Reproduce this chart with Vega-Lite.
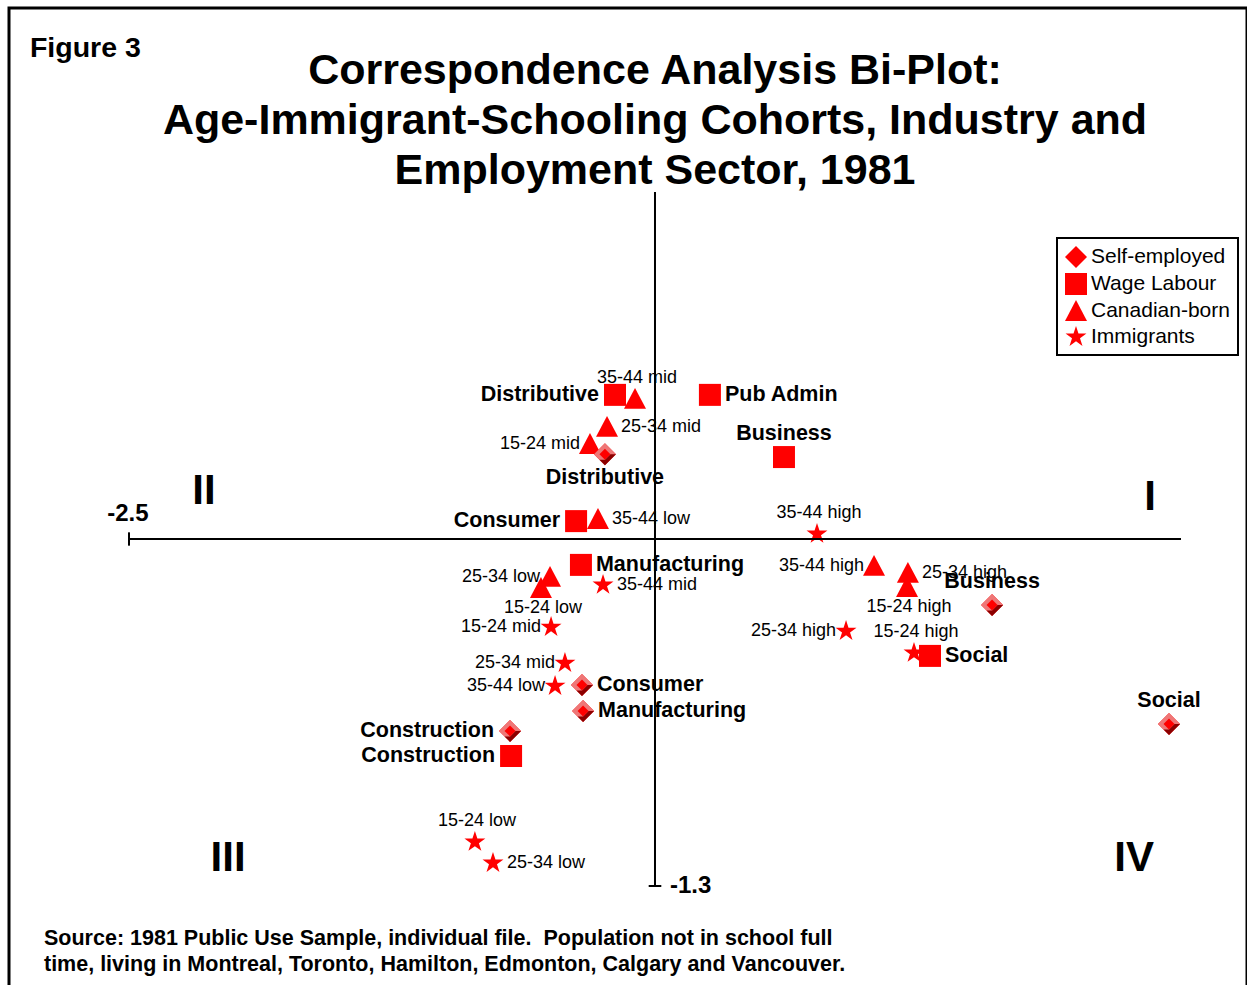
{
  "$schema": "https://vega.github.io/schema/vega-lite/v6.json",
  "width": 1238,
  "height": 1000,
  "autosize": {"type": "none"},
  "padding": {"left": 9, "top": 8, "right": 0, "bottom": 0},
  "background": "white",
  "title": {
    "text": ["Correspondence Analysis Bi-Plot:", "Age-Immigrant-Schooling Cohorts, Industry and", "Employment Sector, 1981"],
    "fontSize": 43,
    "fontWeight": "bold",
    "font": "Liberation Sans",
    "anchor": "middle",
    "frame": "group",
    "dx": 27,
    "offset": -185,
    "lineHeight": 50,
    "color": "black"
  },
  "config": {
    "font": "Liberation Sans",
    "view": {"stroke": "black", "strokeWidth": 3},
    "legend": {
      "orient": "none",
      "legendX": 1048,
      "legendY": 230,
      "padding": 8,
      "rowPadding": 5,
      "labelFontSize": 21,
      "labelFont": "Liberation Sans",
      "labelColor": "black",
      "labelOffset": 4,
      "strokeColor": "black",
      "strokeWidth": 2,
      "fillColor": "white",
      "symbolSize": 484,
      "symbolFillColor": "#ff0000",
      "symbolStrokeWidth": 0
    }
  },
  "datasets": {
    "points": [
      {"category": "Immigrants", "label": "35-44 high", "x": 0.770, "y": 0.019},
      {"category": "Immigrants", "label": "35-44 mid", "x": -0.247, "y": -0.172},
      {"category": "Immigrants", "label": "15-24 mid", "x": -0.494, "y": -0.330},
      {"category": "Immigrants", "label": "25-34 mid", "x": -0.428, "y": -0.465},
      {"category": "Immigrants", "label": "35-44 low", "x": -0.475, "y": -0.551},
      {"category": "Immigrants", "label": "25-34 high", "x": 0.908, "y": -0.345},
      {"category": "Immigrants", "label": "15-24 high", "x": 1.231, "y": -0.427},
      {"category": "Immigrants", "label": "15-24 low", "x": -0.856, "y": -1.135},
      {"category": "Immigrants", "label": "25-34 low", "x": -0.770, "y": -1.214},
      {"category": "Wage Labour", "label": "Distributive", "x": -0.190, "y": 0.540},
      {"category": "Wage Labour", "label": "Pub Admin", "x": 0.261, "y": 0.540},
      {"category": "Wage Labour", "label": "Business", "x": 0.613, "y": 0.307},
      {"category": "Wage Labour", "label": "Consumer", "x": -0.375, "y": 0.067},
      {"category": "Wage Labour", "label": "Manufacturing", "x": -0.352, "y": -0.097},
      {"category": "Wage Labour", "label": "Social", "x": 1.307, "y": -0.438},
      {"category": "Wage Labour", "label": "Construction", "x": -0.684, "y": -0.813},
      {"category": "Canadian-born", "label": "35-44 mid", "x": -0.095, "y": 0.525},
      {"category": "Canadian-born", "label": "25-34 mid", "x": -0.228, "y": 0.420},
      {"category": "Canadian-born", "label": "15-24 mid", "x": -0.309, "y": 0.356},
      {"category": "Canadian-born", "label": "35-44 low", "x": -0.271, "y": 0.075},
      {"category": "Canadian-born", "label": "25-34 low", "x": -0.499, "y": -0.142},
      {"category": "Canadian-born", "label": "15-24 low", "x": -0.542, "y": -0.184},
      {"category": "Canadian-born", "label": "35-44 high", "x": 1.041, "y": -0.101},
      {"category": "Canadian-born", "label": "25-34 high", "x": 1.202, "y": -0.127},
      {"category": "Canadian-born", "label": "15-24 high", "x": 1.198, "y": -0.180},
      {"category": "Self-employed", "label": "Distributive", "x": -0.238, "y": 0.318},
      {"category": "Self-employed", "label": "Business", "x": 1.602, "y": -0.247},
      {"category": "Self-employed", "label": "Consumer", "x": -0.347, "y": -0.547},
      {"category": "Self-employed", "label": "Manufacturing", "x": -0.342, "y": -0.644},
      {"category": "Self-employed", "label": "Construction", "x": -0.689, "y": -0.719},
      {"category": "Self-employed", "label": "Social", "x": 2.443, "y": -0.693}
    ],
    "one": [{"n": 1}]
  },
  "layer": [
    {
      "data": {"name": "points"},
      "mark": {"type": "point", "filled": true, "opacity": 1, "size": 484, "color": "#ff0000", "strokeWidth": 0},
      "encoding": {
        "x": {"field": "x", "type": "quantitative", "scale": {"domain": [-3.0703, 2.8137], "nice": false, "zero": false}, "axis": null},
        "y": {"field": "y", "type": "quantitative", "scale": {"domain": [-1.7572, 1.9895], "nice": false, "zero": false}, "axis": null},
        "shape": {
          "field": "category",
          "type": "nominal",
          "scale": {
            "domain": ["Self-employed", "Wage Labour", "Canadian-born", "Immigrants"],
            "range": ["diamond", "square", "M0,-1L1,0.9L-1,0.9Z", "M0,-1L0.2245,-0.309L0.951,-0.309L0.3633,0.118L0.588,0.809L0,0.382L-0.588,0.809L-0.3633,0.118L-0.951,-0.309L-0.2245,-0.309Z"]
          },
          "legend": {"title": null}
        }
      }
    },
    {
      "data": {"name": "points"},
      "transform": [{"filter": "datum.category == 'Self-employed'"}],
      "mark": {"type": "point", "filled": true, "opacity": 1, "size": 484, "color": "#ee7777", "strokeWidth": 0, "shape": "M0,-1L1,0L0,1L-1,0Z"},
      "encoding": {"x": {"field": "x", "type": "quantitative"}, "y": {"field": "y", "type": "quantitative"}}
    },
    {
      "data": {"name": "points"},
      "transform": [{"filter": "datum.category == 'Self-employed'"}],
      "mark": {"type": "point", "filled": true, "opacity": 1, "size": 484, "color": "#8b0000", "strokeWidth": 0, "shape": "M1,0L0,1L-0.5,0.5L0,0.5L0.5,0Z"},
      "encoding": {"x": {"field": "x", "type": "quantitative"}, "y": {"field": "y", "type": "quantitative"}}
    },
    {
      "data": {"name": "points"},
      "transform": [{"filter": "datum.category == 'Self-employed'"}],
      "mark": {"type": "point", "filled": true, "opacity": 1, "size": 484, "color": "#ff0000", "strokeWidth": 0, "shape": "M0,-0.5L0.5,0L0,0.5L-0.5,0Z"},
      "encoding": {"x": {"field": "x", "type": "quantitative"}, "y": {"field": "y", "type": "quantitative"}}
    },
    {
      "data": {"name": "points"},
      "transform": [{"filter": "(datum.category == 'Wage Labour' && indexof(['Pub Admin','Manufacturing','Social'], datum.label) >= 0) || (datum.category == 'Self-employed' && indexof(['Consumer','Manufacturing'], datum.label) >= 0)"}],
      "mark": {"type": "text", "align": "left", "baseline": "middle", "dx": 15, "fontSize": 21.5, "fontWeight": "bold", "color": "black"},
      "encoding": {"x": {"field": "x", "type": "quantitative"}, "y": {"field": "y", "type": "quantitative"}, "text": {"field": "label"}}
    },
    {
      "data": {"name": "points"},
      "transform": [{"filter": "(datum.category == 'Wage Labour' && indexof(['Distributive','Consumer','Construction'], datum.label) >= 0) || (datum.category == 'Self-employed' && datum.label == 'Construction')"}],
      "mark": {"type": "text", "align": "right", "baseline": "middle", "dx": -16, "fontSize": 21.5, "fontWeight": "bold", "color": "black"},
      "encoding": {"x": {"field": "x", "type": "quantitative"}, "y": {"field": "y", "type": "quantitative"}, "text": {"field": "label"}}
    },
    {
      "data": {"name": "points"},
      "transform": [{"filter": "(datum.category == 'Wage Labour' && datum.label == 'Business') || (datum.category == 'Self-employed' && indexof(['Business','Social'], datum.label) >= 0)"}],
      "mark": {"type": "text", "align": "center", "baseline": "middle", "dy": -23, "fontSize": 21.5, "fontWeight": "bold", "color": "black"},
      "encoding": {"x": {"field": "x", "type": "quantitative"}, "y": {"field": "y", "type": "quantitative"}, "text": {"field": "label"}}
    },
    {
      "data": {"name": "points"},
      "transform": [{"filter": "datum.category == 'Self-employed' && datum.label == 'Distributive'"}],
      "mark": {"type": "text", "align": "center", "baseline": "middle", "dy": 24, "fontSize": 21.5, "fontWeight": "bold", "color": "black"},
      "encoding": {"x": {"field": "x", "type": "quantitative"}, "y": {"field": "y", "type": "quantitative"}, "text": {"field": "label"}}
    },
    {
      "data": {"name": "points"},
      "transform": [{"filter": "(datum.category == 'Canadian-born' && indexof(['25-34 mid','35-44 low','25-34 high'], datum.label) >= 0) || (datum.category == 'Immigrants' && indexof(['35-44 mid','25-34 low'], datum.label) >= 0)"}],
      "mark": {"type": "text", "align": "left", "baseline": "middle", "dx": 14, "fontSize": 18, "color": "black"},
      "encoding": {"x": {"field": "x", "type": "quantitative"}, "y": {"field": "y", "type": "quantitative"}, "text": {"field": "label"}}
    },
    {
      "data": {"name": "points"},
      "transform": [{"filter": "(datum.category == 'Canadian-born' && indexof(['15-24 mid','25-34 low','35-44 high'], datum.label) >= 0) || (datum.category == 'Immigrants' && indexof(['15-24 mid','25-34 mid','35-44 low','25-34 high'], datum.label) >= 0)"}],
      "mark": {"type": "text", "align": "right", "baseline": "middle", "dx": -10, "fontSize": 18, "color": "black"},
      "encoding": {"x": {"field": "x", "type": "quantitative"}, "y": {"field": "y", "type": "quantitative"}, "text": {"field": "label"}}
    },
    {
      "data": {"name": "points"},
      "transform": [{"filter": "(datum.category == 'Canadian-born' && datum.label == '35-44 mid') || (datum.category == 'Immigrants' && indexof(['35-44 high','15-24 high','15-24 low'], datum.label) >= 0)"}],
      "mark": {"type": "text", "align": "center", "baseline": "middle", "dx": 2, "dy": -21, "fontSize": 18, "color": "black"},
      "encoding": {"x": {"field": "x", "type": "quantitative"}, "y": {"field": "y", "type": "quantitative"}, "text": {"field": "label"}}
    },
    {
      "data": {"name": "points"},
      "transform": [{"filter": "datum.category == 'Canadian-born' && indexof(['15-24 low','15-24 high'], datum.label) >= 0"}],
      "mark": {"type": "text", "align": "center", "baseline": "middle", "dx": 2, "dy": 20, "fontSize": 18, "color": "black"},
      "encoding": {"x": {"field": "x", "type": "quantitative"}, "y": {"field": "y", "type": "quantitative"}, "text": {"field": "label"}}
    },
    {
      "data": {"name": "one"},
      "mark": {"type": "rule", "color": "black", "strokeWidth": 2},
      "encoding": {"x": {"datum": -2.5, "type": "quantitative"}, "x2": {"datum": 2.5}, "y": {"datum": 0, "type": "quantitative"}}
    },
    {
      "data": {"name": "one"},
      "mark": {"type": "rule", "color": "black", "strokeWidth": 2},
      "encoding": {"x": {"datum": 0, "type": "quantitative"}, "y": {"datum": -1.3, "type": "quantitative"}, "y2": {"datum": 1.3}}
    },
    {
      "data": {"name": "one"},
      "mark": {"type": "rule", "color": "black", "strokeWidth": 2},
      "encoding": {"x": {"datum": -2.5, "type": "quantitative"}, "y": {"datum": -0.025, "type": "quantitative"}, "y2": {"datum": 0.025}}
    },
    {
      "data": {"name": "one"},
      "mark": {"type": "rule", "color": "black", "strokeWidth": 2},
      "encoding": {"x": {"datum": -0.03, "type": "quantitative"}, "x2": {"datum": 0.03}, "y": {"datum": -1.3, "type": "quantitative"}}
    },
    {
      "data": {"name": "one"},
      "mark": {"type": "text", "align": "center", "baseline": "middle", "fontSize": 24, "fontWeight": "bold", "color": "black", "text": "-2.5"},
      "encoding": {"x": {"datum": -2.505, "type": "quantitative"}, "y": {"datum": 0.094, "type": "quantitative"}}
    },
    {
      "data": {"name": "one"},
      "mark": {"type": "text", "align": "left", "baseline": "middle", "fontSize": 24, "fontWeight": "bold", "color": "black", "text": "-1.3"},
      "encoding": {"x": {"datum": 0.0713, "type": "quantitative"}, "y": {"datum": -1.3, "type": "quantitative"}}
    },
    {
      "data": {"name": "one"},
      "mark": {"type": "text", "align": "center", "baseline": "middle", "fontSize": 42, "fontWeight": "bold", "color": "black", "text": "II"},
      "encoding": {"x": {"datum": -2.144, "type": "quantitative"}, "y": {"datum": 0.18, "type": "quantitative"}}
    },
    {
      "data": {"name": "one"},
      "mark": {"type": "text", "align": "center", "baseline": "middle", "fontSize": 42, "fontWeight": "bold", "color": "black", "text": "I"},
      "encoding": {"x": {"datum": 2.353, "type": "quantitative"}, "y": {"datum": 0.157, "type": "quantitative"}}
    },
    {
      "data": {"name": "one"},
      "mark": {"type": "text", "align": "center", "baseline": "middle", "fontSize": 42, "fontWeight": "bold", "color": "black", "text": "III"},
      "encoding": {"x": {"datum": -2.029, "type": "quantitative"}, "y": {"datum": -1.195, "type": "quantitative"}}
    },
    {
      "data": {"name": "one"},
      "mark": {"type": "text", "align": "center", "baseline": "middle", "fontSize": 42, "fontWeight": "bold", "color": "black", "text": "IV"},
      "encoding": {"x": {"datum": 2.277, "type": "quantitative"}, "y": {"datum": -1.195, "type": "quantitative"}}
    },
    {
      "data": {"name": "one"},
      "mark": {"type": "text", "align": "left", "baseline": "middle", "fontSize": 28.5, "fontWeight": "bold", "color": "black", "text": "Figure 3"},
      "encoding": {"x": {"datum": -2.971, "type": "quantitative"}, "y": {"datum": 1.84, "type": "quantitative"}}
    },
    {
      "data": {"name": "one"},
      "mark": {"type": "text", "align": "left", "baseline": "middle", "fontSize": 21.5, "fontWeight": "bold", "color": "black", "lineHeight": 26, "text": ["Source: 1981 Public Use Sample, individual file.\u00a0 Population not in school full", "time, living in Montreal, Toronto, Hamilton, Edmonton, Calgary and Vancouver."]},
      "encoding": {"x": {"datum": -2.904, "type": "quantitative"}, "y": {"datum": -1.4987, "type": "quantitative"}}
    }
  ]
}
